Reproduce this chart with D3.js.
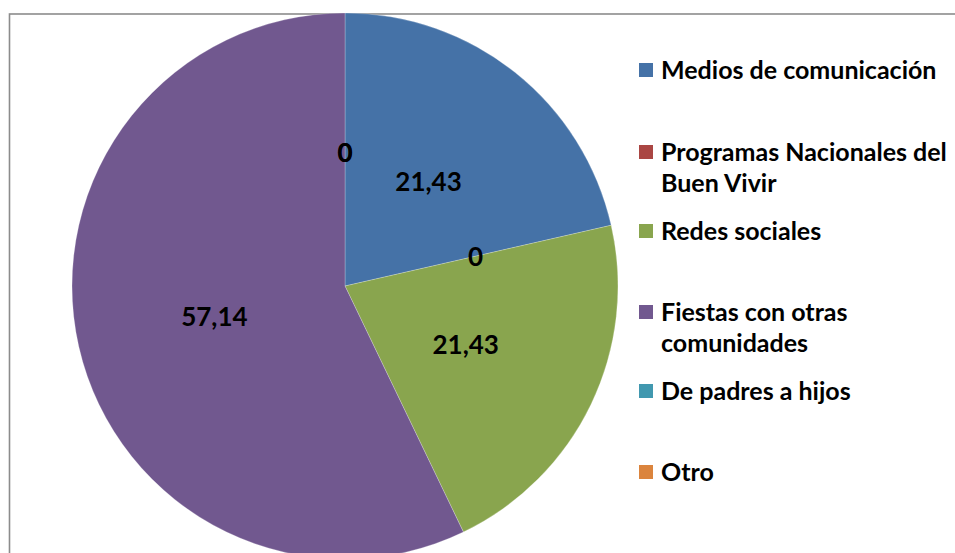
<!DOCTYPE html>
<html>
<head>
<meta charset="utf-8">
<script src="https://cdn.jsdelivr.net/npm/d3@7"></script>
<style>
  body { margin: 0; background: #fff; }
  svg { display: block; font-family: Lato, "Open Sans", sans-serif; }
</style>
</head>
<body>
<div id="chart"></div>
<script>
const WIDTH = 955, HEIGHT = 553;

const categories = ["Medios de comunicación", "Programas Nacionales del Buen Vivir", "Redes sociales",
                    "Fiestas con otras comunidades", "De padres a hijos", "Otro"];
const values = [21.43, 0, 21.43, 57.14, 0, 0];
const valueLabels = ["21,43", "0", "21,43", "57,14", "0", "0"];
const legendLines = [["Medios de comunicación"], ["Programas Nacionales del", "Buen Vivir"], ["Redes sociales"],
                     ["Fiestas con otras", "comunidades"], ["De padres a hijos"], ["Otro"]];
const colors = ["#4572A7", "#AA4643", "#89A54E", "#71588F", "#4198AF", "#DB843D"];

const CX = 345, CY = 286, R = 273;

const svg = d3.select("#chart")
    .append("svg")
    .attr("width", WIDTH)
    .attr("height", HEIGHT)
    .attr("viewBox", `0 0 ${WIDTH} ${HEIGHT}`);

// frame
svg.append("rect")
    .attr("x", 9.5).attr("y", 14)
    .attr("width", 980).attr("height", 700)
    .attr("fill", "none")
    .attr("stroke", "#8c8c8c")
    .attr("stroke-width", 1.6);

const data = categories.map((c, i) => ({name: c, value: values[i], label: valueLabels[i], color: colors[i]}));

const pie = d3.pie().sort(null).value(d => d.value);
const arcs = pie(data);
const arc = d3.arc().innerRadius(0).outerRadius(R);
const labelArc = d3.arc().innerRadius(134).outerRadius(134);

const g = svg.append("g").attr("transform", `translate(${CX},${CY})`);

g.selectAll("path.slice")
    .data(arcs.filter(d => d.data.value > 0))
    .join("path")
    .attr("class", "slice")
    .attr("d", arc)
    .attr("fill", d => d.data.color)
    .attr("stroke", "rgba(255,255,255,0.4)")
    .attr("stroke-width", 0.6);

// value labels (zero slices sit on the slice edges)
const labelG = svg.append("g").attr("transform", `translate(${CX},${CY})`);
labelG.selectAll("text")
    .data(arcs)
    .join("text")
    .attr("x", d => labelArc.centroid(d)[0])
    .attr("y", d => labelArc.centroid(d)[1])
    .attr("text-anchor", "middle")
    .attr("dominant-baseline", "central")
    .attr("font-size", 26)
    .attr("font-weight", "bold")
    .attr("fill", "#000")
    .text(d => d.data.label);

// Legend
const legendY = [70, 152, 231, 312, 391, 472];
const legend = svg.append("g").attr("class", "legend");

const items = legend.selectAll("g.item")
    .data(data)
    .join("g")
    .attr("class", "item")
    .attr("transform", (d, i) => `translate(639,${legendY[i]})`);

items.append("rect")
    .attr("x", 0).attr("y", -7)
    .attr("width", 14).attr("height", 14)
    .attr("fill", d => d.color);

items.append("text")
    .attr("x", 22)
    .attr("y", 0)
    .style("font-size", "25px")
    .style("font-weight", "bold")
    .style("fill", "#000")
    .selectAll("tspan")
    .data((d, i) => legendLines[i])
    .join("tspan")
    .attr("x", 22)
    .attr("dy", (t, j) => j === 0 ? "0.36em" : "31px")
    .text(t => t);
</script>
</body>
</html>
